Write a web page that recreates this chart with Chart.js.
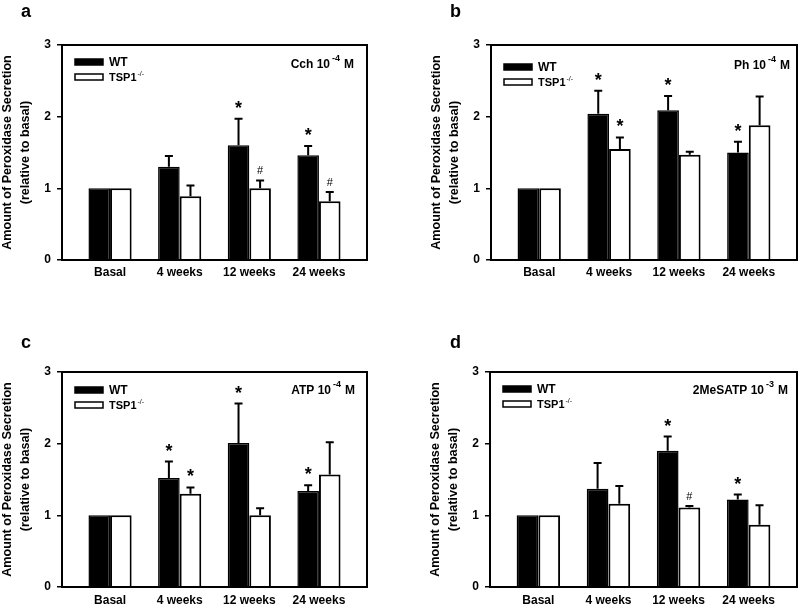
<!DOCTYPE html>
<html>
<head>
<meta charset="utf-8">
<script src="https://cdn.jsdelivr.net/npm/chart.js@4.4.1/dist/chart.umd.min.js"></script>
<style>
  body { margin: 0; background: #fff; width: 800px; height: 606px; position: relative; overflow: hidden; }
  canvas { position: absolute; }
</style>
</head>
<body>
<canvas id="pa" width="400" height="300" style="left:0;top:0"></canvas>
<canvas id="pb" width="400" height="300" style="left:400px;top:0"></canvas>
<canvas id="pc" width="400" height="306" style="left:0;top:300px"></canvas>
<canvas id="pd" width="400" height="306" style="left:400px;top:300px"></canvas>
<script>
// categories
const categories = ['Basal', '4 weeks', '12 weeks', '24 weeks'];

// panel a - Cch 10^-4 M
const wtA = [1, 1.30, 1.60, 1.46];
const wtErrA = [0, 0.15, 0.37, 0.13];
const tspA = [1, 0.89, 1.00, 0.82];
const tspErrA = [0, 0.15, 0.11, 0.13];
const wtMarkA = ['', '', '*', '*'];
const tspMarkA = ['', '', '#', '#'];

// panel b - Ph 10^-4 M
const wtB = [1, 2.04, 2.09, 1.50];
const wtErrB = [0, 0.32, 0.20, 0.15];
const tspB = [1, 1.55, 1.47, 1.88];
const tspErrB = [0, 0.16, 0.04, 0.40];
const wtMarkB = ['', '*', '*', '*'];
const tspMarkB = ['', '*', '', ''];

// panel c - ATP 10^-4 M
const wtC = [1, 1.52, 2.01, 1.34];
const wtErrC = [0, 0.23, 0.55, 0.08];
const tspC = [1, 1.30, 1.00, 1.57];
const tspErrC = [0, 0.09, 0.10, 0.45];
const wtMarkC = ['', '*', '*', '*'];
const tspMarkC = ['', '*', '', ''];

// panel d - 2MeSATP 10^-3 M
const wtD = [1, 1.37, 1.90, 1.22];
const wtErrD = [0, 0.36, 0.20, 0.07];
const tspD = [1, 1.16, 1.11, 0.87];
const tspErrD = [0, 0.25, 0.02, 0.27];
const wtMarkD = ['', '', '*', '*'];
const tspMarkD = ['', '', '#', ''];

const yTicks = [0, 1, 2, 3];
const yTitle = ['Amount of Peroxidase Secretion', '(relative to basal)'];

const FONT = "'Liberation Sans', Arial, sans-serif";

// draws frame, error bars, significance marks, legend, agonist label, panel letter
function panelPlugin(p) {
  return {
    id: 'panel_' + p.letter,
    afterDatasetsDraw(chart) {
      const ctx = chart.ctx;
      const ys = chart.scales.y;
      ctx.save();
      ctx.strokeStyle = '#000';
      ctx.fillStyle = '#000';
      ctx.lineWidth = 2;
      chart.data.datasets.forEach((ds, di) => {
        const meta = chart.getDatasetMeta(di);
        meta.data.forEach((bar, i) => {
          const v = ds.data[i].y;
          const e = ds.errors[i];
          let top = bar.y;
          if (e > 0) {
            const ye = ys.getPixelForValue(v + e);
            ctx.beginPath();
            ctx.moveTo(bar.x, bar.y);
            ctx.lineTo(bar.x, ye);
            ctx.moveTo(bar.x - 4, ye);
            ctx.lineTo(bar.x + 4, ye);
            ctx.stroke();
            top = ye;
          }
          const m = ds.marks[i];
          ctx.textAlign = 'center';
          ctx.textBaseline = 'alphabetic';
          if (m === '*') {
            ctx.font = 'bold 18px ' + FONT;
            ctx.fillText('*', bar.x, top - 5);
          } else if (m === '#') {
            ctx.font = '11px ' + FONT;
            ctx.fillText('#', bar.x, top - 6);
          }
        });
      });
      ctx.restore();
    },
    afterDraw(chart) {
      const ctx = chart.ctx;
      const a = chart.chartArea;
      ctx.save();
      ctx.strokeStyle = '#000';
      ctx.fillStyle = '#000';
      ctx.lineWidth = 2;
      ctx.strokeRect(a.left, a.top, a.right - a.left, a.bottom - a.top);

      // legend
      const lx = a.left + 13;
      const ly1 = a.top + p.legTop;
      const ly2 = ly1 + 15;
      ctx.lineWidth = 1.5;
      ctx.fillRect(lx, ly1 - 3, 28, 6);
      ctx.strokeRect(lx, ly1 - 3, 28, 6);
      ctx.fillStyle = '#fff';
      ctx.fillRect(lx, ly2 - 3, 28, 6);
      ctx.strokeRect(lx, ly2 - 3, 28, 6);
      ctx.fillStyle = '#000';
      ctx.textAlign = 'left';
      ctx.textBaseline = 'middle';
      ctx.font = 'bold 12px ' + FONT;
      ctx.fillText('WT', lx + 34, ly1 + 1);
      ctx.font = 'bold 11px ' + FONT;
      ctx.fillText('TSP1', lx + 34, ly2 + 1);
      const tw = ctx.measureText('TSP1').width;
      ctx.font = '7px ' + FONT;
      ctx.fillText('-/-', lx + 35 + tw, ly2 - 3);

      // agonist label, right aligned
      ctx.font = 'bold 12px ' + FONT;
      const main = p.agonist + ' 10';
      const wMain = ctx.measureText(main).width;
      const wM = ctx.measureText('M').width;
      ctx.font = 'bold 9px ' + FONT;
      const wExp = ctx.measureText(p.exp).width;
      const right = a.right - p.agRight;
      const ay = a.top + p.agTop;
      let x = right - wM - 4 - wExp - 2 - wMain;
      ctx.font = 'bold 12px ' + FONT;
      ctx.fillText(main, x, ay);
      ctx.font = 'bold 9px ' + FONT;
      ctx.fillText(p.exp, x + wMain + 2, ay - 6);
      ctx.font = 'bold 12px ' + FONT;
      ctx.fillText('M', right - wM, ay);

      // panel letter
      ctx.font = 'bold 18px ' + FONT;
      ctx.textBaseline = 'alphabetic';
      ctx.fillText(p.letter, p.letterX, p.letterY);
      ctx.restore();
    }
  };
}

function makePanel(id, p) {
  new Chart(document.getElementById(id), {
    type: 'bar',
    data: {
      datasets: [{
        label: 'WT',
        data: p.wt.map((v, i) => ({ x: i, y: v })),
        errors: p.wtErr,
        marks: p.wtMark,
        backgroundColor: '#000',
        borderColor: '#000',
        borderWidth: 1.5,
        categoryPercentage: 0.62,
        barPercentage: 1.0
      }, {
        label: 'TSP1-/-',
        data: p.tsp.map((v, i) => ({ x: i, y: v })),
        errors: p.tspErr,
        marks: p.tspMark,
        backgroundColor: '#fff',
        borderColor: '#000',
        borderWidth: 2,
        categoryPercentage: 0.62,
        barPercentage: 1.0
      }]
    },
    options: {
      responsive: false,
      animation: false,
      devicePixelRatio: 1,
      layout: { padding: { left: p.padL, right: p.padR, top: p.padT, bottom: 0 } },
      plugins: { legend: { display: false }, tooltip: { enabled: false } },
      scales: {
        x: {
          type: 'linear',
          offset: false,
          min: -0.69,
          max: 3.69,
          afterBuildTicks: s => { s.ticks = categories.map((c, i) => ({ value: i })); },
          afterFit: s => { s.height = p.xH; },
          grid: { display: false },
          border: { display: false },
          ticks: {
            autoSkip: false,
            maxRotation: 0,
            padding: p.xPad,
            color: '#000',
            font: { family: FONT, size: 12, weight: 'bold' },
            callback: v => categories[Math.round(v)]
          }
        },
        y: {
          min: 0,
          max: 3,
          afterBuildTicks: s => { s.ticks = yTicks.map(v => ({ value: v })); },
          afterFit: s => { s.width = 62; },
          grid: { drawOnChartArea: false, tickLength: 5, color: '#000', lineWidth: 1.5 },
          border: { color: '#000', width: 2 },
          ticks: {
            padding: 6,
            color: '#000',
            font: { family: FONT, size: 12, weight: 'bold' }
          },
          title: {
            display: true,
            text: yTitle,
            color: '#000',
            font: { family: FONT, size: 12.6, weight: 'bold', lineHeight: 1.45 },
            padding: { top: -2, bottom: 0 }
          }
        }
      }
    },
    plugins: [panelPlugin(p)]
  });
}

makePanel('pa', { letter: 'a', letterX: 21, letterY: 17, agonist: 'Cch', exp: '-4',
  wt: wtA, wtErr: wtErrA, tsp: tspA, tspErr: tspErrA, wtMark: wtMarkA, tspMark: tspMarkA,
  padL: 0, padR: 33, padT: 45, xH: 40, xPad: -3, legTop: 17, agTop: 20, agRight: 13 });
makePanel('pb', { letter: 'b', letterX: 50, letterY: 17, agonist: 'Ph', exp: '-4',
  wt: wtB, wtErr: wtErrB, tsp: tspB, tspErr: tspErrB, wtMark: wtMarkB, tspMark: tspMarkB,
  padL: 29, padR: 3, padT: 45, xH: 40, xPad: -3, legTop: 22, agTop: 21, agRight: 7 });
makePanel('pc', { letter: 'c', letterX: 21, letterY: 48, agonist: 'ATP', exp: '-4',
  wt: wtC, wtErr: wtErrC, tsp: tspC, tspErr: tspErrC, wtMark: wtMarkC, tspMark: tspMarkC,
  padL: 0, padR: 33, padT: 72, xH: 19, xPad: -2, legTop: 18, agTop: 19, agRight: 12 });
makePanel('pd', { letter: 'd', letterX: 50, letterY: 48, agonist: '2MeSATP', exp: '-3',
  wt: wtD, wtErr: wtErrD, tsp: tspD, tspErr: tspErrD, wtMark: wtMarkD, tspMark: tspMarkD,
  padL: 28, padR: 3, padT: 72, xH: 19, xPad: -2, legTop: 17, agTop: 19, agRight: 9 });
</script>
</body>
</html>
